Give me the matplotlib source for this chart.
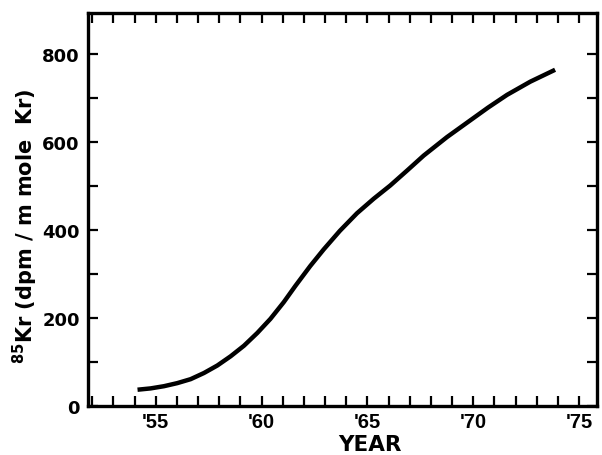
import numpy as np
import matplotlib.pyplot as plt
from matplotlib.ticker import MultipleLocator, FixedLocator

# 85Kr atmospheric concentration
years = [54.14, 54.76, 55.39, 56.02, 56.65, 57.28, 57.91, 58.54, 59.17,
         59.8, 60.42, 61.05, 61.6, 62.3, 62.94, 63.7, 64.51, 65.3,
         66.08, 66.9, 67.66, 68.76, 69.86, 70.7, 71.6, 72.7, 73.87]
kr85 = [37, 40, 45, 52, 61, 75, 92, 113, 137,
        166, 198, 236, 273, 318, 356, 398, 438, 471,
        501, 536, 569, 611, 649, 678, 707, 737, 764]

major_years = [55, 60, 65, 70, 75]
major_labels = ["'55", "'60", "'65", "'70", "'75"]

plt.rcParams['font.family'] = ['DejaVu Sans']
plt.rcParams['font.weight'] = 'bold'
plt.rcParams['mathtext.fontset'] = 'custom'
plt.rcParams['mathtext.rm'] = 'DejaVu Sans:bold'
plt.rcParams['mathtext.bf'] = 'DejaVu Sans:bold'

fig = plt.figure(figsize=(6.02, 4.56), dpi=100)
ax = fig.add_axes([88 / 602, 1 - 407 / 456, (597 - 88) / 602, (407 - 14) / 456])

ax.plot(years, kr85, color='black', lw=3.2, solid_capstyle='butt')

ax.set_xlim(51.8, 75.85)
ax.set_ylim(0, 893)

ax.xaxis.set_major_locator(FixedLocator(major_years))
ax.set_xticklabels(major_labels)
ax.xaxis.set_minor_locator(MultipleLocator(1))
ax.yaxis.set_major_locator(FixedLocator([0, 200, 400, 600, 800]))
ax.yaxis.set_minor_locator(MultipleLocator(100))

for s in ax.spines.values():
    s.set_linewidth(2.4)

ax.tick_params(axis='x', which='both', direction='in', length=7, width=1.6,
               top=True, bottom=True, pad=4)
ax.tick_params(axis='y', which='both', direction='in', length=7, width=1.6,
               left=True, right=True, labelsize=13, pad=6)

for lab in ax.get_xticklabels():
    lab.set_family(['Liberation Sans', 'DejaVu Sans'])
    lab.set_fontsize(14.5)
    lab.set_fontweight('bold')
for lab in ax.get_yticklabels():
    lab.set_fontweight('bold')

ax.set_xlabel("YEAR", fontsize=15.5, fontweight='bold')
ax.xaxis.set_label_coords((370 - 88) / 509, -0.07)
ax.set_ylabel(r"$^{85}$Kr (dpm / m mole  Kr)", fontsize=15, fontweight='bold')
ax.yaxis.set_label_coords(-0.094, 0.46)

fig.savefig("out.png", dpi=100)
